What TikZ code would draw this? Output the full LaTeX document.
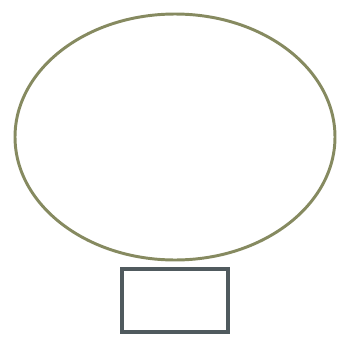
\documentclass[tikz,border=0pt]{standalone}
\usetikzlibrary{shapes.geometric}
\definecolor{rimolive}{RGB}{134,138,96}
\definecolor{boxslate}{RGB}{80,90,94}
\begin{document}
\begin{tikzpicture}[line cap=round,line join=round]
  \def\px{0.05}
  \useasboundingbox (0,0) rectangle ({339*\px},{-336*\px});
  \coordinate (O) at ({175*\px},{-137*\px});
  \coordinate (R) at ({175*\px},{-300.5*\px});
  \node[draw=rimolive, line width=4.2pt, ellipse, inner sep=0pt,
        minimum width=16.0cm, minimum height=12.3cm] (balloon) at (O) {};
  \node[draw=boxslate, line width=4.4pt, line join=miter, rectangle, inner sep=0pt,
        minimum width=5.3cm, minimum height=3.15cm] (basket) at (R) {};
\end{tikzpicture}
\end{document}
